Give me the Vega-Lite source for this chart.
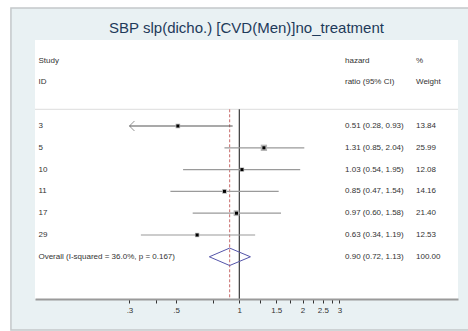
{
  "$schema": "https://vega.github.io/schema/vega-lite/v6.json",
  "width": 423,
  "height": 259,
  "autosize": {"type": "none"},
  "padding": {"left": 35, "top": 40, "right": 10, "bottom": 32},
  "background": "white",
  "config": {"view": {"stroke": null}, "font": "Liberation Sans"},
  "title": {"text": "SBP slp(dicho.) [CVD(Men)]no_treatment", "fontSize": 15, "fontWeight": "normal", "color": "#1e3a5a", "anchor": "middle", "baseline": "alphabetic", "offset": -40.5},
  "datasets": {
    "studies": [
      {"id": "3", "row": 4, "hr": 0.51, "lo": 0.28, "hi": 0.93, "lo_shown": 0.3, "w": 13.84, "ci": "0.51 (0.28, 0.93)", "wt": "13.84", "clipped": true},
      {"id": "5", "row": 5, "hr": 1.31, "lo": 0.85, "hi": 2.04, "lo_shown": 0.85, "w": 25.99, "ci": "1.31 (0.85, 2.04)", "wt": "25.99", "clipped": false},
      {"id": "10", "row": 6, "hr": 1.03, "lo": 0.54, "hi": 1.95, "lo_shown": 0.54, "w": 12.08, "ci": "1.03 (0.54, 1.95)", "wt": "12.08", "clipped": false},
      {"id": "11", "row": 7, "hr": 0.85, "lo": 0.47, "hi": 1.54, "lo_shown": 0.47, "w": 14.16, "ci": "0.85 (0.47, 1.54)", "wt": "14.16", "clipped": false},
      {"id": "17", "row": 8, "hr": 0.97, "lo": 0.60, "hi": 1.58, "lo_shown": 0.60, "w": 21.40, "ci": "0.97 (0.60, 1.58)", "wt": "21.40", "clipped": false},
      {"id": "29", "row": 9, "hr": 0.63, "lo": 0.34, "hi": 1.19, "lo_shown": 0.34, "w": 12.53, "ci": "0.63 (0.34, 1.19)", "wt": "12.53", "clipped": false},
      {"id": "Overall  (I-squared = 36.0%, p = 0.167)", "row": 10, "hr": 0.90, "lo": 0.72, "hi": 1.13, "lo_shown": 0.72, "w": 100, "ci": "0.90 (0.72, 1.13)", "wt": "100.00", "clipped": false}
    ],
    "header": [
      {"row": 1, "study": "Study", "ci": "hazard", "wt": "%"},
      {"row": 2, "study": "ID", "ci": "ratio (95% CI)", "wt": "Weight"}
    ],
    "diamond": [
      {"o": 1, "x": 0.72, "y": 10},
      {"o": 2, "x": 0.90, "y": 9.6},
      {"o": 3, "x": 1.13, "y": 10},
      {"o": 4, "x": 0.90, "y": 10.4},
      {"o": 5, "x": 0.72, "y": 10}
    ]
  },
  "layer": [
    {
      "data": {"values": [{}]},
      "mark": {"type": "rect", "fill": "#e9f1f3", "stroke": "#c4c8ca", "strokeWidth": 1.5},
      "encoding": {
        "x": {"datum": 0.0818, "type": "quantitative", "scale": {"type": "log", "domain": [0.1065, 11.0], "nice": false}, "axis": {
          "values": [0.3, 0.4, 0.5, 0.75, 1, 1.25, 1.5, 1.75, 2, 2.25, 2.5, 2.75, 3],
          "labelExpr": "datum.value == 0.3 ? '.3' : datum.value == 0.5 ? '.5' : datum.value == 1 ? '1' : datum.value == 1.5 ? '1.5' : datum.value == 2 ? '2' : datum.value == 2.5 ? '2.5' : datum.value == 3 ? '3' : ''",
          "title": null, "grid": false, "zindex": 2, "domainColor": "#9a9a9a", "domainWidth": 2, "tickColor": "#333333", "tickSize": 4, "tickWidth": 1,
          "labelFontSize": 8, "labelColor": "#333333", "labelPadding": 3, "labelOverlap": false, "labelFlush": false, "labelFont": "Liberation Sans"}},
        "x2": {"datum": 12.55},
        "y": {"datum": -1.413, "type": "quantitative", "scale": {"domain": [0.055, 11.936], "reverse": true, "nice": false, "zero": false}, "axis": null},
        "y2": {"datum": 13.358}
      }
    },
    {
      "data": {"values": [{}]},
      "mark": {"type": "rect", "fill": "white"},
      "encoding": {
        "x": {"datum": 0.1065, "type": "quantitative"},
        "x2": {"datum": 11.0},
        "y": {"datum": 0.055, "type": "quantitative"},
        "y2": {"datum": 11.936}
      }
    },
    {
      "data": {"values": [{}]},
      "mark": {"type": "rule", "color": "#dddddd", "strokeWidth": 1},
      "encoding": {
        "x": {"datum": 0.1065, "type": "quantitative"},
        "x2": {"datum": 11.0},
        "y": {"datum": 3.234, "type": "quantitative"}
      }
    },
    {
      "data": {"values": [{}]},
      "mark": {"type": "rule", "color": "#c86a6a", "strokeWidth": 1, "strokeDash": [3, 2]},
      "encoding": {
        "x": {"datum": 0.90, "type": "quantitative"},
        "y": {"datum": 3.234, "type": "quantitative"},
        "y2": {"datum": 11.936}
      }
    },
    {
      "data": {"values": [{}]},
      "mark": {"type": "rule", "color": "#111111", "strokeWidth": 1},
      "encoding": {
        "x": {"datum": 1, "type": "quantitative"},
        "y": {"datum": 3.234, "type": "quantitative"},
        "y2": {"datum": 11.936}
      }
    },
    {
      "data": {"name": "studies"},
      "transform": [{"filter": "datum.row < 10"}],
      "mark": {"type": "rule", "strokeWidth": 1.2},
      "encoding": {
        "x": {"field": "lo_shown", "type": "quantitative"},
        "x2": {"field": "hi"},
        "y": {"field": "row", "type": "quantitative"},
        "color": {"field": "clipped", "type": "nominal", "scale": {"domain": [true, false], "range": ["#555555", "#9a9a9a"]}, "legend": null},
        "strokeWidth": {"field": "clipped", "type": "nominal", "scale": {"domain": [true, false], "range": [0.9, 1.3]}, "legend": null}
      }
    },
    {
      "data": {"name": "studies"},
      "transform": [{"filter": "datum.clipped"}],
      "mark": {"type": "point", "shape": "M 1 -1 L 0 0 L 1 1", "filled": false, "size": 100, "stroke": "#555555", "strokeWidth": 0.9},
      "encoding": {
        "x": {"field": "lo_shown", "type": "quantitative"},
        "y": {"field": "row", "type": "quantitative"}
      }
    },
    {
      "data": {"name": "studies"},
      "transform": [{"filter": "datum.row < 10"}],
      "mark": {"type": "square", "filled": true, "color": "#b4b4b4", "opacity": 1},
      "encoding": {
        "x": {"field": "hr", "type": "quantitative"},
        "y": {"field": "row", "type": "quantitative"},
        "size": {"field": "w", "type": "quantitative", "scale": {"domain": [0, 26], "range": [0, 40]}, "legend": null}
      }
    },
    {
      "data": {"name": "studies"},
      "transform": [{"filter": "datum.row < 10"}],
      "mark": {"type": "square", "filled": true, "color": "#000000", "size": 9, "opacity": 1},
      "encoding": {
        "x": {"field": "hr", "type": "quantitative"},
        "y": {"field": "row", "type": "quantitative"}
      }
    },
    {
      "data": {"name": "diamond"},
      "mark": {"type": "line", "color": "#5555aa", "strokeWidth": 1},
      "encoding": {
        "x": {"field": "x", "type": "quantitative"},
        "y": {"field": "y", "type": "quantitative"},
        "order": {"field": "o", "type": "quantitative"}
      }
    },
    {
      "data": {"name": "studies"},
      "mark": {"type": "text", "align": "left", "baseline": "middle", "fontSize": 8, "color": "#333333"},
      "encoding": {
        "x": {"datum": 0.1106, "type": "quantitative"},
        "y": {"field": "row", "type": "quantitative"},
        "text": {"field": "id"}
      }
    },
    {
      "data": {"name": "studies"},
      "mark": {"type": "text", "align": "left", "baseline": "middle", "fontSize": 8, "color": "#333333"},
      "encoding": {
        "x": {"datum": 3.187, "type": "quantitative"},
        "y": {"field": "row", "type": "quantitative"},
        "text": {"field": "ci"}
      }
    },
    {
      "data": {"name": "studies"},
      "mark": {"type": "text", "align": "left", "baseline": "middle", "fontSize": 8, "color": "#333333"},
      "encoding": {
        "x": {"datum": 6.94, "type": "quantitative"},
        "y": {"field": "row", "type": "quantitative"},
        "text": {"field": "wt"}
      }
    },
    {
      "data": {"name": "header"},
      "mark": {"type": "text", "align": "left", "baseline": "middle", "fontSize": 8, "color": "#333333"},
      "encoding": {
        "x": {"datum": 0.1106, "type": "quantitative"},
        "y": {"field": "row", "type": "quantitative"},
        "text": {"field": "study"}
      }
    },
    {
      "data": {"name": "header"},
      "mark": {"type": "text", "align": "left", "baseline": "middle", "fontSize": 8, "color": "#333333"},
      "encoding": {
        "x": {"datum": 3.187, "type": "quantitative"},
        "y": {"field": "row", "type": "quantitative"},
        "text": {"field": "ci"}
      }
    },
    {
      "data": {"name": "header"},
      "mark": {"type": "text", "align": "left", "baseline": "middle", "fontSize": 8, "color": "#333333"},
      "encoding": {
        "x": {"datum": 6.94, "type": "quantitative"},
        "y": {"field": "row", "type": "quantitative"},
        "text": {"field": "wt"}
      }
    }
  ]
}
